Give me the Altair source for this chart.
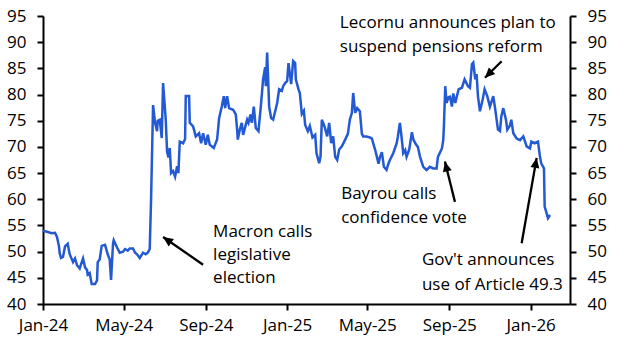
import altair as alt
import pandas as pd

# ---- series: days since 2024-01-01 and index value ----
days = [0, 6, 13, 18, 21, 24, 25, 27, 30, 33, 37, 40, 45, 48, 51, 55, 60, 63, 66, 67,
        70, 73, 78, 81, 82, 85, 88, 93, 97, 100, 102, 105, 106, 111, 115, 120, 123, 127,
        130, 135, 138, 141, 145, 150, 154, 157, 160, 162, 165, 168, 171, 172, 175, 178,
        180, 184, 186, 188, 190, 192, 195, 198, 201, 203, 205, 210, 213, 214, 219, 220,
        225, 229, 234, 237, 240, 244, 247, 250, 256, 261, 264, 268, 271, 273, 276, 279,
        285, 289, 291, 292, 295, 298, 300, 306, 308, 311, 313, 316, 319, 323, 327, 330,
        333, 334, 336, 339, 342, 345, 351, 354, 358, 360, 363, 366, 368, 372, 375, 378,
        379, 383, 385, 388, 391, 393, 397, 400, 404, 408, 410, 414, 416, 418, 422, 426,
        429, 432, 435, 438, 441, 444, 448, 453, 457, 460, 463, 465, 468, 471, 475, 478,
        480, 485, 490, 493, 498, 503, 505, 508, 511, 515, 517, 520, 525, 530, 532, 535,
        537, 540, 543, 545, 549, 553, 555, 558, 562, 565, 570, 575, 580, 585, 590, 592,
        598, 600, 601, 603, 605, 608, 610, 613, 615, 618, 623, 628, 632, 637, 640, 643,
        645, 648, 650, 652, 655, 659, 662, 666, 670, 675, 678, 682, 685, 687, 690, 694,
        696, 700, 702, 705, 710, 715, 720, 725, 730, 732, 737, 742, 745, 747, 751, 752,
        755, 757, 760]
values = [54.0, 53.8, 53.5, 53.6, 52.8, 51.0, 49.7, 48.8, 49.0, 51.0, 51.5, 49.5, 48.0,
          48.7, 47.4, 46.8, 48.7, 47.0, 46.5, 45.6, 45.9, 43.8, 43.8, 44.5, 48.0, 48.5,
          51.1, 51.3, 49.5, 48.5, 44.6, 51.6, 52.2, 50.8, 49.8, 50.0, 50.5, 50.2, 50.6,
          50.6, 49.8, 49.5, 48.8, 49.8, 49.5, 49.8, 50.5, 60.0, 78.0, 74.6, 73.0, 75.0,
          75.2, 71.7, 82.2, 75.2, 69.1, 68.0, 69.8, 65.0, 65.4, 64.3, 66.3, 65.0, 71.0,
          70.7, 71.5, 79.7, 79.7, 74.6, 73.9, 72.0, 72.6, 70.7, 72.6, 70.4, 72.3, 70.4,
          69.8, 71.4, 75.5, 77.7, 79.7, 77.4, 79.7, 77.4, 77.1, 76.2, 73.3, 71.4, 73.3,
          74.6, 72.3, 75.2, 74.6, 76.2, 74.6, 77.7, 73.6, 73.0, 78.4, 83.0, 85.2, 81.6,
          88.0, 77.7, 75.5, 75.2, 78.4, 81.0, 80.7, 81.6, 82.2, 82.6, 86.0, 82.0, 86.4,
          86.0, 82.9, 81.0, 80.3, 76.3, 76.9, 74.2, 73.0, 74.0, 71.8, 72.3, 68.8, 66.9,
          68.1, 75.2, 73.9, 72.0, 74.6, 70.7, 72.0, 68.1, 67.5, 69.5, 70.1, 71.4, 72.5,
          75.2, 76.5, 80.3, 76.5, 77.4, 76.8, 72.5, 72.0, 72.0, 71.8, 71.6, 69.4, 66.8,
          68.0, 69.0, 66.2, 65.6, 66.5, 67.5, 68.8, 70.6, 72.0, 74.6, 72.5, 68.8, 69.4,
          68.1, 69.5, 72.8, 71.5, 70.7, 70.0, 68.2, 66.2, 65.6, 66.2, 65.9, 65.9, 68.1,
          69.7, 71.3, 74.0, 81.6, 78.4, 79.5, 79.6, 77.7, 80.2, 78.4, 81.0, 81.3, 82.9,
          81.6, 81.3, 85.8, 86.1, 82.9, 83.9, 79.7, 76.8, 79.0, 81.0, 79.7, 77.7, 79.7,
          77.1, 73.3, 73.0, 75.8, 77.4, 75.2, 73.3, 74.1, 75.2, 72.6, 71.6, 71.3, 72.0,
          70.1, 69.7, 71.0, 70.7, 71.0, 68.1, 66.8, 65.9, 58.6, 57.3, 56.4, 57.0]

# ---- annotations (positions in data units: days since 2024-01-01, index value) ----
note_text = ["Macron calls", "legislative", "election",
             "Bayrou calls", "confidence vote",
             "Gov't announces", "use of Article 49.3",
             "Lecornu announces plan to", "suspend pensions reform"]
note_day = [255, 255, 255, 447, 447, 568, 568, 445, 445]
note_value = [53.8, 49.4, 44.9, 61.0, 56.45, 48.4, 43.6, 93.75, 89.16]

arrow_from_day = [240, 617.5, 717.5, 687.5]
arrow_from_value = [47.5, 59.5, 51.6, 86.35]
arrow_to_day = [180, 602.5, 740, 662.5]
arrow_to_value = [52.8, 67.2, 67.9, 83.2]
arrow_angle = [305, 346, 10, 225]

tick_labels = ["Jan-24", "May-24", "Sep-24", "Jan-25", "May-25", "Sep-25", "Jan-26"]
y_ticks = [40, 45, 50, 55, 60, 65, 70, 75, 80, 85, 90, 95]

base = pd.Timestamp("2024-01-01")
df = pd.DataFrame({"date": base + pd.to_timedelta(days, unit="D"), "value": values})
notes = pd.DataFrame({"text": note_text,
                      "date": base + pd.to_timedelta(note_day, unit="D"),
                      "value": note_value})
arrows = pd.DataFrame({"date": base + pd.to_timedelta(arrow_from_day, unit="D"),
                       "value": arrow_from_value,
                       "date2": base + pd.to_timedelta(arrow_to_day, unit="D"),
                       "value2": arrow_to_value,
                       "angle": arrow_angle})

FONT = "Open Sans"
FS = 17
tick_dates = [alt.DateTime(year=2000 + int(t[-2:]),
                           month=["Jan", "May", "Sep"].index(t[:3]) * 4 + 1, date=1)
              for t in tick_labels]

xscale = alt.Scale(domain=[alt.DateTime(year=2024, month=1, date=1),
                           alt.DateTime(year=2026, month=3, date=1)])
yscale = alt.Scale(domain=[40, 95], nice=False, zero=False)

xenc = alt.X("date:T", scale=xscale, title=None,
             axis=alt.Axis(values=tick_dates, format="%b-%y", labelFlush=False,
                           labelOverlap=False, labelPadding=7, tickSize=6))

line = alt.Chart(df).mark_line(color="#2359D2", strokeWidth=2.5).encode(
    x=xenc,
    y=alt.Y("value:Q", scale=yscale, title=None,
            axis=alt.Axis(orient="left", values=y_ticks, labelPadding=11, tickSize=6)),
)
right = alt.Chart(df).mark_line(opacity=0).encode(
    x=alt.X("date:T", scale=xscale),
    y=alt.Y("value:Q", scale=yscale, title=None,
            axis=alt.Axis(orient="right", values=y_ticks, labelPadding=11, tickSize=6)),
)
rules = alt.Chart(arrows).mark_rule(color="black", strokeWidth=2.3).encode(
    x=alt.X("date:T", scale=xscale),
    y=alt.Y("value:Q", scale=yscale, axis=None),
    x2="date2:T", y2="value2:Q",
)
heads = alt.Chart(arrows).mark_point(
    shape="M0,0L0.9,2L-0.9,2Z", filled=True, color="black", opacity=1, size=100,
    strokeWidth=0,
).encode(
    x=alt.X("date2:T", scale=xscale),
    y=alt.Y("value2:Q", scale=yscale, axis=None),
    angle=alt.Angle("angle:Q", scale=None),
)
texts = alt.Chart(notes).mark_text(
    align="left", baseline="middle", font=FONT, fontSize=FS, color="black"
).encode(
    x=alt.X("date:T", scale=xscale),
    y=alt.Y("value:Q", scale=yscale, axis=None),
    text="text:N",
)

chart = alt.layer(line, right, rules, heads, texts).resolve_scale(
    y="independent"
).properties(
    width=527, height=288,
    padding={"left": 43, "top": 16, "right": 54, "bottom": 50},
    autosize=alt.AutoSizeParams(type="none"),
).configure_view(stroke=None).configure_axis(
    labelFont=FONT, labelFontSize=FS, labelColor="black",
    domainColor="black", tickColor="black", domainWidth=2, tickWidth=2,
    grid=False,
)

chart.save("out.html", embed_options={"renderer": "svg", "actions": False})
